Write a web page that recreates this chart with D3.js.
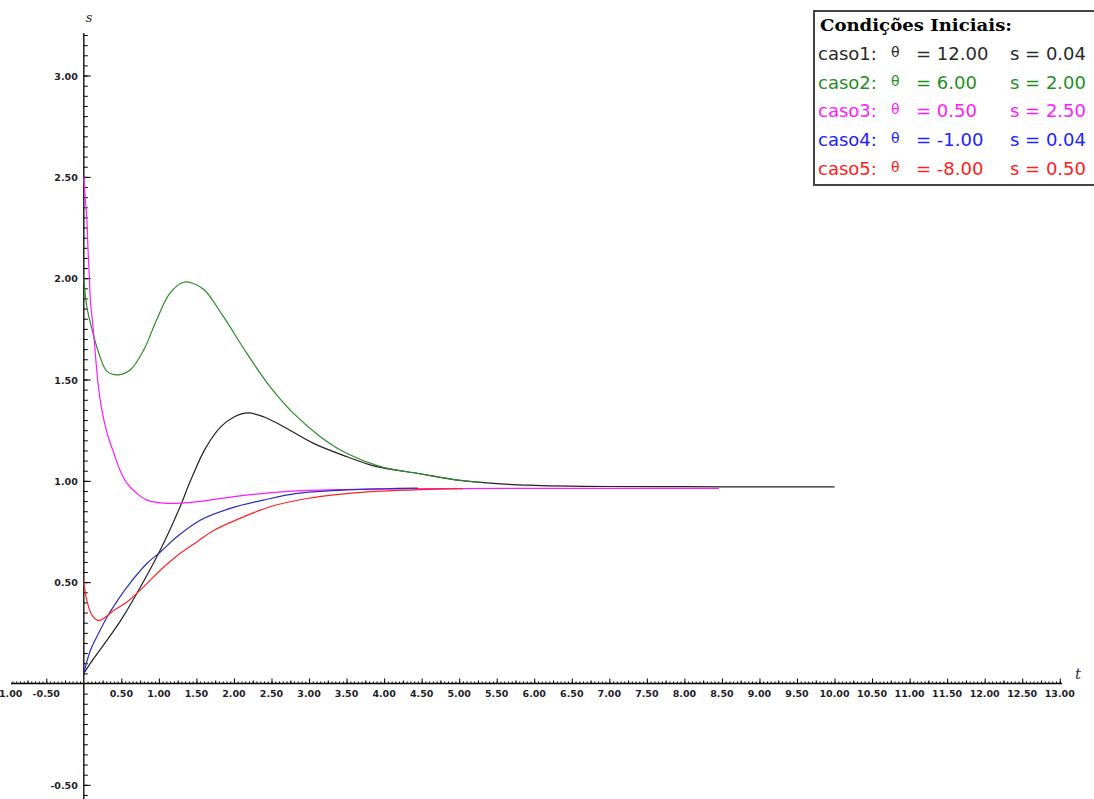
<!DOCTYPE html>
<html>
<head>
<meta charset="utf-8">
<script src="https://cdn.jsdelivr.net/npm/d3@7"></script>
<style>
  html, body { margin: 0; padding: 0; background: #fff; }
  svg { display: block; }
</style>
</head>
<body>
<svg id="chart" width="1094" height="799"></svg>
<script>
// ---- data ----
const caso1T = [0, 0.1, 0.22, 0.35, 0.49, 0.73, 1.02, 1.28, 1.42, 1.62, 1.82, 2.0, 2.19, 2.4, 2.62, 3.06, 3.5, 3.9, 4.48, 4.95, 5.55, 6.0, 6.5, 7.0, 8.0, 9.0, 10.0];
const caso1S = [0.05, 0.107, 0.168, 0.235, 0.31, 0.46, 0.66, 0.87, 1.0, 1.16, 1.265, 1.315, 1.335, 1.315, 1.276, 1.185, 1.12, 1.07, 1.035, 1.005, 0.985, 0.978, 0.974, 0.972, 0.971, 0.970, 0.970];

const caso2T = [0, 0.04, 0.11, 0.2, 0.31, 0.46, 0.62, 0.8, 0.97, 1.15, 1.33, 1.45, 1.6, 1.86, 2.17, 2.48, 2.79, 3.15, 3.5, 3.93, 4.5, 5.0, 5.3];
const caso2S = [2.0, 1.86, 1.746, 1.63, 1.54, 1.523, 1.548, 1.647, 1.795, 1.927, 1.98, 1.975, 1.944, 1.81, 1.63, 1.465, 1.334, 1.218, 1.136, 1.073, 1.033, 1.003, 0.992];

const caso3T = [0, 0.01, 0.04, 0.056, 0.073, 0.087, 0.13, 0.19, 0.24, 0.31, 0.40, 0.49, 0.575, 0.7, 0.84, 1.11, 1.51, 1.95, 2.62, 3.28, 3.95, 5.0, 6.0, 7.0, 8.0, 8.46];
const caso3S = [2.5, 2.44, 2.29, 2.14, 2.01, 1.894, 1.73, 1.48, 1.35, 1.235, 1.136, 1.045, 0.988, 0.94, 0.905, 0.889, 0.897, 0.92, 0.946, 0.955, 0.959, 0.962, 0.963, 0.963, 0.963, 0.963];

const caso4T = [0, 0.087, 0.2, 0.31, 0.45, 0.575, 0.84, 1.02, 1.24, 1.55, 1.95, 2.39, 2.84, 3.5, 4.0, 4.45];
const caso4S = [0.05, 0.163, 0.25, 0.328, 0.41, 0.476, 0.592, 0.649, 0.724, 0.806, 0.864, 0.905, 0.938, 0.955, 0.961, 0.964];

const caso5T = [0, 0.04, 0.11, 0.2, 0.29, 0.4, 0.575, 0.84, 1.02, 1.28, 1.51, 1.73, 2.08, 2.48, 2.97, 3.5, 3.95, 4.5, 5.05];
const caso5S = [0.5, 0.41, 0.336, 0.31, 0.328, 0.361, 0.402, 0.493, 0.559, 0.641, 0.70, 0.755, 0.815, 0.872, 0.913, 0.937, 0.949, 0.957, 0.962];

const seriesColors = ["#222222", "#2a8c2a", "#ff1aff", "#2c2cb8", "#ff2424"];
const legendColors = ["#2a2a2a", "#1f8f1f", "#ff1aff", "#2222ff", "#ff2020"];

const legendTitle = "Condições Iniciais:";
const legendCases = ["caso1:", "caso2:", "caso3:", "caso4:", "caso5:"];
const legendTheta = ["12.00", "6.00", "0.50", "-1.00", "-8.00"];
const legendS = ["0.04", "2.00", "2.50", "0.04", "0.50"];

const xTickValues = [-1, -0.5, 0.5, 1, 1.5, 2, 2.5, 3, 3.5, 4, 4.5, 5, 5.5, 6, 6.5, 7, 7.5, 8, 8.5, 9, 9.5, 10, 10.5, 11, 11.5, 12, 12.5, 13];
const xTickLabels = ["-1.00", "-0.50", "0.50", "1.00", "1.50", "2.00", "2.50", "3.00", "3.50", "4.00", "4.50", "5.00", "5.50", "6.00", "6.50", "7.00", "7.50", "8.00", "8.50", "9.00", "9.50", "10.00", "10.50", "11.00", "11.50", "12.00", "12.50", "13.00"];
const yTickValues = [-0.5, 0.5, 1, 1.5, 2, 2.5, 3];
const yTickLabels = ["-0.50", "0.50", "1.00", "1.50", "2.00", "2.50", "3.00"];

// ---- drawing ----
const svg = d3.select("#chart");
const x = d3.scaleLinear().domain([-0.97, 13.03]).range([11, 1062]);
const y = d3.scaleLinear().domain([-0.57, 3.21]).range([799, 33]);

const axisFont = "'DejaVu Sans', Verdana, sans-serif";

// x axis: minor / mid / major ticks pointing up
const xMinor = d3.range(-0.95, 13.001, 0.05).filter(v => Math.abs(v) > 1e-6);
const xMid = d3.range(-0.75, 13.001, 0.5);
const xMajor = d3.range(-0.5, 13.001, 0.5).filter(v => Math.abs(v) > 1e-6);
function xAxisLayer(vals, size) {
  const g = svg.append("g").attr("transform", `translate(0,${y(0)})`)
    .call(d3.axisTop(x).tickValues(vals).tickSize(size).tickFormat(""));
  g.selectAll("line").attr("stroke", "#000");
  g.select(".domain").remove();
}
xAxisLayer(xMinor, 2);
xAxisLayer(xMid, 3);
xAxisLayer(xMajor, 5);
svg.append("line").attr("x1", 11).attr("x2", 1062).attr("y1", y(0)).attr("y2", y(0))
  .attr("stroke", "#000").attr("stroke-width", 1.3);

svg.append("g").selectAll("text").data(xTickValues).join("text")
  .attr("x", d => x(d)).attr("y", y(0) + 14)
  .attr("text-anchor", "middle")
  .attr("font-family", axisFont).attr("font-size", 9.5).attr("font-weight", "bold")
  .attr("fill", "#1e1e2a")
  .text((d, i) => xTickLabels[i]);

// y axis: ticks to the right
const yMinor = d3.range(-0.55, 3.201, 0.05).filter(v => Math.abs(v) > 1e-6);
const yMajor = yTickValues;
function yAxisLayer(vals, size) {
  const g = svg.append("g").attr("transform", `translate(${x(0)},0)`)
    .call(d3.axisRight(y).tickValues(vals).tickSize(size).tickFormat(""));
  g.selectAll("line").attr("stroke", "#000");
  g.select(".domain").remove();
}
yAxisLayer(yMinor, 4);
yAxisLayer(yMajor, 7);
svg.append("line").attr("x1", x(0)).attr("x2", x(0)).attr("y1", 33).attr("y2", 799)
  .attr("stroke", "#000").attr("stroke-width", 1.3);

svg.append("g").selectAll("text").data(yTickValues).join("text")
  .attr("x", x(0) - 6).attr("y", d => y(d) + 4)
  .attr("text-anchor", "end")
  .attr("font-family", axisFont).attr("font-size", 9.5).attr("font-weight", "bold")
  .attr("fill", "#1e1e2a")
  .text((d, i) => yTickLabels[i]);

// axis names
svg.append("text").attr("x", x(0) + 2).attr("y", 22)
  .attr("font-family", "'DejaVu Serif', 'Liberation Serif', serif").attr("font-style", "italic")
  .attr("font-size", 13).attr("fill", "#333").text("s");
svg.append("text").attr("x", 1075).attr("y", 679)
  .attr("font-family", "'DejaVu Serif', 'Liberation Serif', serif").attr("font-style", "italic")
  .attr("font-size", 15).attr("fill", "#333").text("t");

// curves
const series = [
  { t: caso1T, s: caso1S },
  { t: caso2T, s: caso2S },
  { t: caso3T, s: caso3S },
  { t: caso4T, s: caso4S },
  { t: caso5T, s: caso5S }
];
const line = d3.line().x(d => x(d[0])).y(d => y(d[1])).curve(d3.curveCatmullRom.alpha(0.5));
series.forEach((ser, i) => {
  const pts = ser.t.map((t, j) => [t, ser.s[j]]);
  svg.append("path").datum(pts)
    .attr("d", line)
    .attr("fill", "none")
    .attr("stroke", seriesColors[i])
    .attr("stroke-width", 1.2);
});

// legend
const lg = svg.append("g");
lg.append("rect").attr("x", 814).attr("y", 11).attr("width", 290).attr("height", 174)
  .attr("fill", "#fff").attr("stroke", "#444").attr("stroke-width", 2);
lg.append("text").attr("x", 820).attr("y", 31)
  .attr("font-family", "'DejaVu Serif', 'Liberation Serif', serif").attr("font-weight", "bold")
  .attr("font-size", 16.5).attr("fill", "#000")
  .attr("textLength", 192).attr("lengthAdjust", "spacingAndGlyphs")
  .text(legendTitle);
const legendFont = "'DejaVu Sans', Verdana, sans-serif";
legendCases.forEach((c, i) => {
  const by = 60 + i * 28.7;
  const col = legendColors[i];
  const row = lg.append("g").attr("fill", col).attr("font-family", legendFont);
  row.append("text").attr("x", 818).attr("y", by).attr("font-size", 18).text(c);
  row.append("text").attr("x", 891).attr("y", by - 3).attr("font-size", 14).text("θ");
  row.append("text").attr("x", 916).attr("y", by).attr("font-size", 18).text("= " + legendTheta[i]);
  row.append("text").attr("x", 1010).attr("y", by).attr("font-size", 18).text("s = " + legendS[i]);
});
</script>
</body>
</html>
